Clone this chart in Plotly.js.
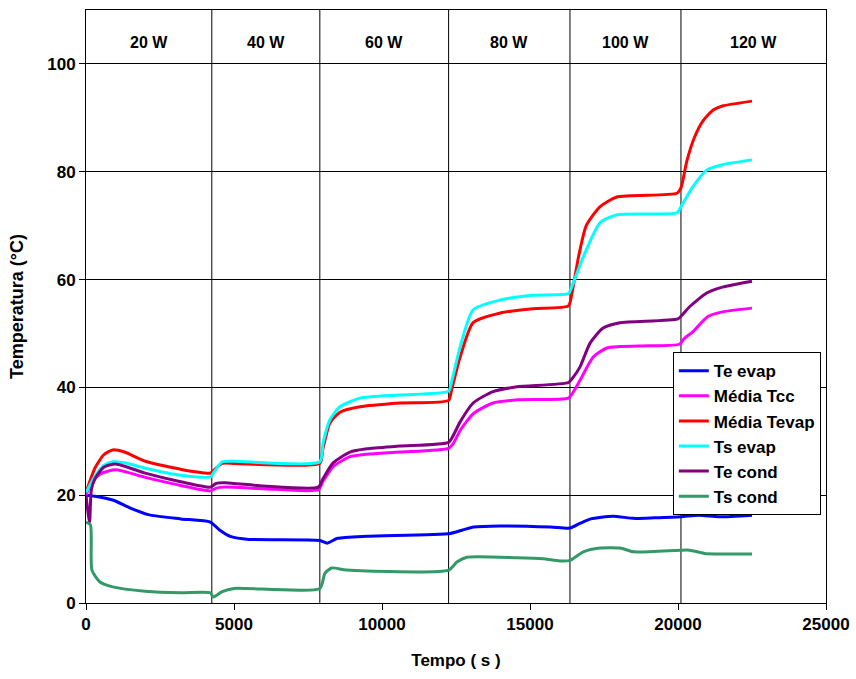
<!DOCTYPE html>
<html>
<head>
<meta charset="utf-8">
<script src="https://cdn.plot.ly/plotly-3.0.1.min.js"></script>
<style>html,body{margin:0;padding:0;background:#fff;}#chart{width:856px;height:679px;}</style>
</head>
<body>
<div id="chart"></div>
<script>
// ---- data ----
const seriesNames = ['Te evap', 'Média Tcc', 'Média Tevap', 'Ts evap', 'Te cond', 'Ts cond'];
const seriesColors = ['#0000FF', '#FF00FF', '#FF0000', '#00FFFF', '#800080', '#339966'];

const teEvapT = [0, 300, 900, 1500, 2100, 3200, 4200, 4500, 4900, 5500, 7900, 8150, 8500, 9500, 12300, 12700, 13100, 14000, 15700, 16350, 16700, 17050, 17800, 18500, 19200, 20100, 20700, 21400, 22500];
const teEvapV = [20, 19.8, 19.1, 17.6, 16.4, 15.6, 15, 13.6, 12.3, 11.8, 11.6, 11.1, 12, 12.4, 12.9, 13.5, 14.1, 14.3, 14.1, 13.9, 14.8, 15.6, 16.1, 15.7, 15.8, 16, 16.3, 16, 16.3];

const mediaTccT = [0, 200, 500, 1000, 2000, 3200, 4200, 4400, 4700, 6000, 7850, 8000, 8350, 8900, 9500, 10600, 12250, 12400, 12650, 13100, 13750, 14600, 16300, 16450, 16700, 17130, 17600, 19000, 20050, 20200, 20500, 21000, 21500, 22500];
const mediaTccV = [20, 22.5, 24, 24.7, 23.3, 21.8, 20.8, 21.3, 21.5, 21.2, 21, 22.5, 25.3, 27.1, 27.6, 28, 28.7, 29.5, 32.1, 35.2, 37.1, 37.7, 38, 39, 41.4, 45.6, 47.3, 47.7, 48, 49, 50.3, 53.1, 54, 54.7];

const mediaTevapT = [0, 300, 600, 900, 1300, 2000, 3200, 4200, 4350, 4600, 5000, 7900, 8000, 8240, 8580, 9260, 10600, 12250, 12350, 12640, 13080, 14000, 15100, 16300, 16400, 16650, 16900, 17360, 17930, 19970, 20100, 20300, 20550, 20850, 21200, 21500, 22500];
const mediaTevapV = [20.5, 25, 27.5, 28.4, 28, 26.3, 24.8, 24.1, 24.8, 25.9, 25.9, 25.9, 28.5, 33.4, 35.4, 36.4, 37.1, 37.6, 39.5, 45.6, 52, 53.8, 54.6, 55.1, 57, 64.5, 70, 73.5, 75.3, 76, 77, 82, 86.3, 89.5, 91.5, 92.2, 93.1];

const tsEvapT = [0, 300, 600, 900, 1300, 2000, 3200, 4200, 4350, 4600, 5000, 7900, 8010, 8240, 8580, 9260, 10600, 12250, 12350, 12640, 13080, 14000, 15100, 16300, 16400, 16800, 17360, 17930, 19970, 20100, 20500, 20970, 21500, 22500];
const tsEvapV = [20.5, 23.5, 25.5, 26.2, 26, 25, 23.7, 23.4, 24.5, 26.2, 26.3, 26.2, 29.7, 34, 36.4, 38, 38.6, 39.3, 41, 47.5, 54.4, 56.2, 57.1, 57.4, 58.5, 64.2, 70.5, 72, 72.4, 73.5, 77.2, 80.3, 81.3, 82.2];

const teCondT = [0, 120, 180, 300, 600, 1000, 2000, 3200, 4200, 4400, 4700, 6000, 7850, 8000, 8350, 8920, 9490, 10600, 12250, 12400, 12640, 13080, 13750, 14560, 16300, 16450, 16690, 17030, 17470, 18040, 20000, 20150, 20400, 20970, 21500, 22500];
const teCondV = [20, 15, 21, 23, 25.2, 25.8, 24.1, 22.5, 21.5, 22.2, 22.3, 21.7, 21.5, 23, 26, 28, 28.6, 29.1, 29.8, 31, 33.6, 37.1, 39.2, 40.1, 40.9, 41.8, 43.8, 48.2, 51, 52, 52.7, 53.5, 55, 57.5, 58.6, 59.7];

const tsCondT = [0, 150, 200, 470, 900, 2000, 3200, 4200, 4300, 4600, 5000, 7900, 8070, 8300, 8800, 12250, 12530, 12870, 14560, 15440, 16010, 16350, 16800, 17360, 18040, 18500, 20070, 20400, 20900, 22500];
const tsCondV = [15, 14.5, 6.1, 3.9, 3, 2.2, 1.9, 1.9, 1.1, 2.1, 2.7, 2.7, 5.5, 6.5, 6.1, 6.1, 7.6, 8.5, 8.4, 8.2, 7.8, 7.9, 9.5, 10.2, 10.2, 9.5, 9.8, 9.8, 9.2, 9.1];

const powerSteps = [4250, 7900, 12250, 16350, 20100];
const powerLabels = ['20 W', '40 W', '60 W', '80 W', '100 W', '120 W'];
const xTicks = [0, 5000, 10000, 15000, 20000, 25000];
const yTicks = [0, 20, 40, 60, 80, 100];

// ---- chart ----
const xs = [teEvapT, mediaTccT, mediaTevapT, tsEvapT, teCondT, tsCondT];
const ys = [teEvapV, mediaTccV, mediaTevapV, tsEvapV, teCondV, tsCondV];
const FONT = 'Liberation Sans, Arial, sans-serif';

const traces = seriesNames.map((n, i) => ({
  x: xs[i], y: ys[i], name: n, type: 'scatter', mode: 'lines',
  legendgroup: 'g' + i,
  line: {color: seriesColors[i], width: 3, shape: 'spline', smoothing: 0.6}
}));

const xMax = 25000, yMax = 110;
const shapes = powerSteps.map(s => ({
  type: 'line', xref: 'x', yref: 'y', x0: s, x1: s, y0: 0, y1: yMax,
  line: {color: '#000', width: 1}, layer: 'below'
}));
const bounds = [0, ...powerSteps, xMax];
const annotations = powerLabels.map((lab, i) => ({
  x: (bounds[i] + bounds[i + 1]) / 2, y: 104, xref: 'x', yref: 'y',
  text: lab, showarrow: false,
  font: {family: FONT, size: 16, color: '#000', weight: 700}
}));

const layout = {
  width: 856, height: 679,
  margin: {l: 86, r: 30, t: 10, b: 76},
  paper_bgcolor: '#fff', plot_bgcolor: '#fff',
  showlegend: true,
  legend: {
    x: 0.793, y: 0.423, xanchor: 'left', yanchor: 'top',
    bgcolor: '#fff', bordercolor: '#000', borderwidth: 1,
    tracegroupgap: 3, traceorder: 'normal',
    font: {family: FONT, size: 17, color: '#000', weight: 700}
  },
  xaxis: {
    range: [0, xMax], tickvals: xTicks, ticktext: xTicks.map(String),
    showgrid: false, zeroline: false,
    showline: true, linecolor: '#000', linewidth: 1, mirror: true,
    ticks: 'outside', ticklen: 6, tickcolor: '#000',
    tickfont: {family: FONT, size: 17, color: '#000', weight: 700},
    title: {text: 'Tempo ( s )', standoff: 20, font: {family: FONT, size: 17, color: '#000', weight: 700}}
  },
  yaxis: {
    range: [0, yMax], tickvals: yTicks, ticktext: yTicks.map(String),
    showgrid: true, gridcolor: '#000', gridwidth: 1, zeroline: false,
    showline: true, linecolor: '#000', linewidth: 1, mirror: true,
    ticks: 'outside', ticklen: 6, tickcolor: '#000',
    tickfont: {family: FONT, size: 17, color: '#000', weight: 700},
    title: {text: 'Temperatura (°C)', standoff: 18, font: {family: FONT, size: 18, color: '#000', weight: 700}}
  },
  shapes: shapes,
  annotations: annotations
};

Plotly.newPlot('chart', traces, layout, {displayModeBar: false, staticPlot: true});
</script>
</body>
</html>
